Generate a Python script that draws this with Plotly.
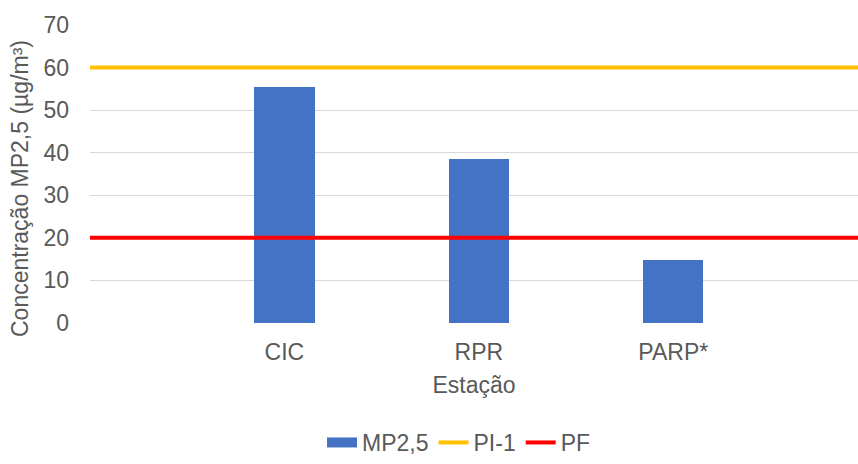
import plotly.graph_objects as go

# Stations and measured PM2.5 concentrations
estacoes = ["CIC", "RPR", "PARP*"]
mp25 = [55.5, 38.5, 14.8]

# Reference limits
pi1_valor = 60
pf_valor = 20

y_ticks = [0, 10, 20, 30, 40, 50, 60, 70]

x_pos = list(range(len(estacoes)))
x_min, x_max = -1.0, 2.95

font_family = "Liberation Sans, Arial, sans-serif"
text_color = "#595959"
fsize = 23

fig = go.Figure()

fig.add_trace(go.Bar(
    x=x_pos, y=mp25, name="MP2,5",
    marker=dict(color="#4472C4", line=dict(width=0)),
    width=0.31, showlegend=False, legendgroup="mp",
))

# wide swatch for the bar series in the legend
fig.add_trace(go.Scatter(
    x=[None], y=[None], name="MP2,5", legendgroup="mp",
    mode="lines", line=dict(color="#4472C4", width=14),
))

fig.add_trace(go.Scatter(
    x=[x_min, x_max], y=[pi1_valor, pi1_valor], name="PI-1",
    mode="lines", line=dict(color="#FFC000", width=4),
))

fig.add_trace(go.Scatter(
    x=[x_min, x_max], y=[pf_valor, pf_valor], name="PF",
    mode="lines", line=dict(color="#FF0000", width=4),
))

fig.update_layout(
    width=858, height=464,
    margin=dict(l=90, r=0, t=25, b=141),
    paper_bgcolor="white", plot_bgcolor="white",
    font=dict(family=font_family, size=fsize, color=text_color),
    showlegend=True,
    legend=dict(
        orientation="h",
        xref="container", x=0.535, xanchor="center",
        yref="container", y=-0.02, yanchor="bottom",
        font=dict(size=fsize, color=text_color),
        traceorder="normal",
    ),
    xaxis=dict(
        range=[x_min, x_max], automargin=False,
        tickmode="array", tickvals=x_pos, ticktext=estacoes,
        showgrid=False, zeroline=False, showline=False,
        ticks="", ticklabelstandoff=13,
        title=dict(text="Estação", standoff=12, font=dict(size=fsize, color=text_color)),
        fixedrange=True,
    ),
    yaxis=dict(
        range=[0, 70], automargin=False,
        tickmode="array", tickvals=y_ticks,
        showgrid=True, gridcolor="#D9D9D9", gridwidth=1,
        zeroline=False, showline=False,
        ticks="", ticklabelstandoff=20,
        fixedrange=True,
    ),
    annotations=[dict(
        text="Concentração MP2,5 (µg/m³)", textangle=-90,
        xref="paper", yref="paper", x=-0.091, y=0.45,
        xanchor="center", yanchor="middle", showarrow=False,
        font=dict(size=fsize, color=text_color),
    )],
    bargap=0,
)

fig.write_html("out.html")
